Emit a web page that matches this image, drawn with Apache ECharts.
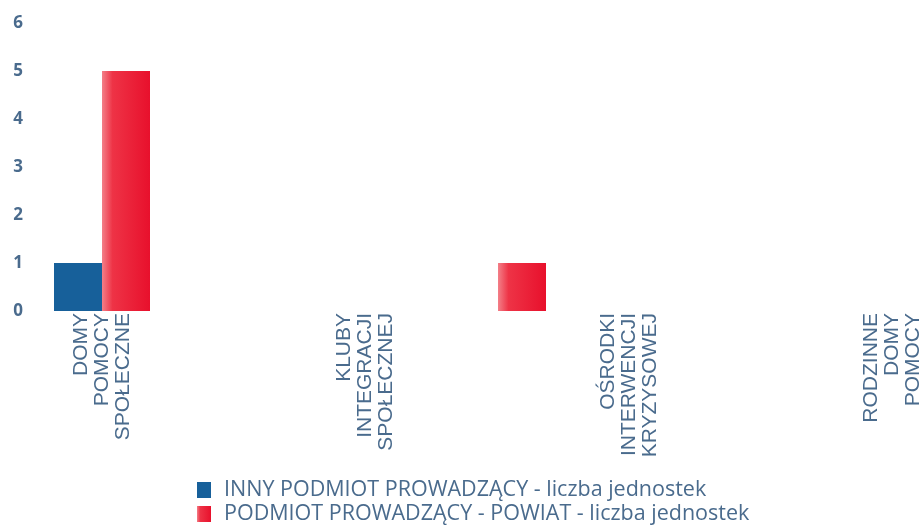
<!DOCTYPE html>
<html>
<head>
<meta charset="utf-8">
<script src="https://cdn.jsdelivr.net/npm/echarts@6/dist/echarts.min.js"></script>
<style>
  html, body { margin: 0; padding: 0; background: #fff; }
  #chart { width: 924px; height: 525px; }
</style>
</head>
<body>
<div id="chart"></div>
<script>
// data
var categories = ['DOMY\nPOMOCY\nSPOŁECZNE', 'KLUBY\nINTEGRACJI\nSPOŁECZNEJ', 'OŚRODKI\nINTERWENCJI\nKRYZYSOWEJ', 'RODZINNE\nDOMY\nPOMOCY'];
var seriesNames = ['INNY PODMIOT PROWADZĄCY - liczba jednostek', 'PODMIOT PROWADZĄCY - POWIAT - liczba jednostek'];
var innyValues = [1, 0, 0, 0];
var powiatValues = [5, 0, 1, 0];
var yMin = 0, yMax = 6, yStep = 1;

var textColor = '#4a6b8d';

var chart = echarts.init(document.getElementById('chart'));

var option = {
    backgroundColor: '#fff',
    animation: false,
    legend: {
        data: seriesNames,
        orient: 'vertical',
        left: 197,
        top: 479,
        padding: 0,
        itemWidth: 14,
        itemHeight: 16,
        itemGap: 2,
        icon: 'rect',
        textStyle: {
            color: textColor,
            fontFamily: 'Open Sans',
            fontSize: 21.5,
            lineHeight: 21,
            padding: [0, 0, 0, 8]
        }
    },
    grid: [
        // bars
        { left: 3, width: 792, top: 23, bottom: 214, outerBoundsMode: 'none' },
        // category labels sit on their own wider band
        { left: -30, right: -100, top: 23, bottom: 214, outerBoundsMode: 'none' }
    ],
    xAxis: [
        {
            type: 'category',
            gridIndex: 0,
            data: categories,
            axisLine: { show: false },
            axisTick: { show: false },
            axisLabel: { show: false }
        },
        {
            type: 'category',
            gridIndex: 1,
            data: categories,
            axisLine: { show: false },
            axisTick: { show: false },
            axisLabel: {
                interval: 0,
                rotate: 90,
                margin: 2,
                color: textColor,
                fontFamily: 'Liberation Sans',
                fontSize: 21,
                lineHeight: 21
            }
        }
    ],
    yAxis: [
        {
            type: 'value',
            gridIndex: 0,
            min: yMin,
            max: yMax,
            interval: yStep,
            splitLine: { show: false },
            axisLine: { show: false },
            axisTick: { show: false },
            axisLabel: {
                align: 'center',
                margin: -15,
                color: textColor,
                fontFamily: 'Open Sans',
                fontWeight: 'bold',
                fontSize: 17
            }
        },
        {
            type: 'value',
            gridIndex: 1,
            show: false
        }
    ],
    series: [
        {
            name: seriesNames[0],
            type: 'bar',
            xAxisIndex: 0,
            yAxisIndex: 0,
            data: innyValues,
            barWidth: 48,
            barGap: '0%',
            itemStyle: { color: '#17609a' }
        },
        {
            name: seriesNames[1],
            type: 'bar',
            xAxisIndex: 0,
            yAxisIndex: 0,
            data: powiatValues,
            barWidth: 48,
            barGap: '0%',
            itemStyle: {
                color: new echarts.graphic.LinearGradient(0, 0, 1, 0, [
                    { offset: 0, color: '#f37f88' },
                    { offset: 0.22, color: '#ee3346' },
                    { offset: 1, color: '#e8102c' }
                ])
            }
        },
        {
            // empty series so the label grid gets drawn
            type: 'bar',
            xAxisIndex: 1,
            yAxisIndex: 1,
            data: ['-', '-', '-', '-'],
            silent: true
        }
    ]
};

chart.setOption(option);
</script>
</body>
</html>
